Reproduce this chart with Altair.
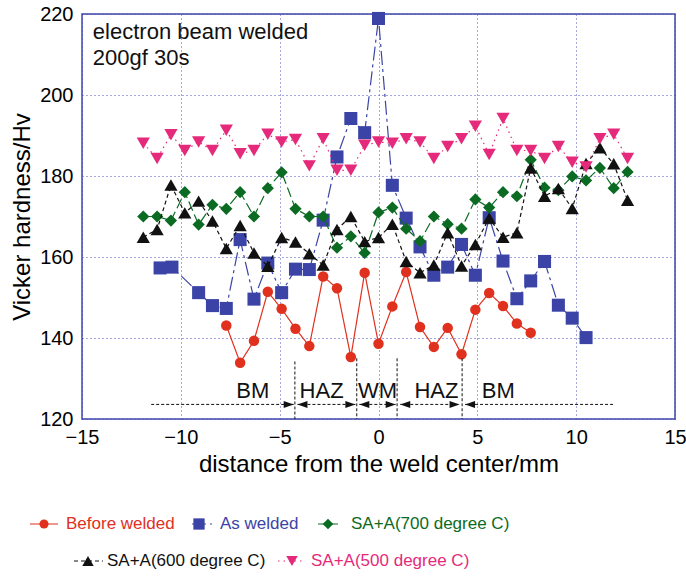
import altair as alt
import pandas as pd

# ---------------- data ----------------
x_before = [-7.7, -7.0, -6.3, -5.6, -4.9, -4.2, -3.5, -2.8, -2.1, -1.4, -0.7, 0.0,
            0.7, 1.4, 2.1, 2.8, 3.5, 4.2, 4.9, 5.6, 6.3, 7.0, 7.7]
y_before = [143.1, 133.9, 139.3, 151.4, 147.2, 142.3, 138.0, 155.2, 152.3, 135.3, 156.1, 138.6,
            147.8, 156.3, 142.7, 137.8, 142.5, 136.0, 147.0, 151.1, 147.9, 143.6, 141.3]

x_as = [-11.05, -10.45, -9.1, -8.4, -7.7, -7.0, -6.3, -5.6, -4.9, -4.2, -3.5, -2.8, -2.1, -1.4, -0.7, 0.0,
        0.7, 1.4, 2.1, 2.8, 3.5, 4.2, 4.9, 5.6, 6.3, 7.0, 7.7, 8.4, 9.1, 9.8, 10.5]
y_as = [157.3, 157.5, 151.2, 148.0, 147.3, 164.3, 149.6, 158.5, 151.2, 157.0, 156.9, 169.1, 184.7, 194.2, 190.7, 218.9,
        177.7, 169.6, 162.5, 155.5, 157.5, 163.1, 155.5, 169.7, 159.0, 149.7, 154.1, 158.9, 148.1, 144.9, 140.1]

x_full = [-11.9, -11.2, -10.5, -9.8, -9.1, -8.4, -7.7, -7.0, -6.3, -5.6, -4.9, -4.2, -3.5, -2.8, -2.1, -1.4, -0.7, 0.0,
          0.7, 1.4, 2.1, 2.8, 3.5, 4.2, 4.9, 5.6, 6.3, 7.0, 7.7, 8.4, 9.1, 9.8, 10.5, 11.2, 11.9, 12.6]
y_700 = [170.0, 170.0, 169.0, 176.0, 168.0, 172.9, 171.9, 176.0, 170.0, 177.0, 180.9, 171.9, 170.0, 170.0, 162.3, 165.1, 161.0, 171.0,
         172.2, 167.0, 163.9, 170.0, 168.1, 167.0, 174.2, 172.2, 176.0, 175.0, 184.0, 177.1, 176.5, 179.9, 178.9, 182.0, 177.0, 181.0]
y_600 = [164.9, 166.8, 177.8, 170.9, 173.8, 168.9, 162.1, 167.8, 161.0, 157.7, 164.8, 163.7, 160.8, 158.0, 166.8, 170.0, 163.8, 164.8,
         168.1, 158.9, 156.1, 158.0, 166.0, 157.8, 163.1, 169.6, 164.9, 166.0, 182.0, 175.0, 176.9, 172.0, 183.1, 187.0, 183.0, 174.0]
y_500 = [188.1, 184.3, 190.2, 186.3, 188.4, 186.3, 191.3, 185.5, 186.3, 190.3, 188.4, 189.0, 182.5, 189.2, 181.4, 181.4, 187.6, 188.4,
         188.1, 189.2, 188.4, 184.3, 187.3, 189.2, 192.3, 185.3, 194.2, 186.3, 186.3, 184.3, 187.3, 183.4, 182.2, 189.2, 190.3, 184.3]

series_names = ["Before welded", "As welded", "SA+A(700 degree C)", "SA+A(600 degree C)", "SA+A(500 degree C)"]

# annotations
note_lines = ["electron beam welded", "200gf 30s"]
note_x = [-14.45, -14.45]
note_y = [215.5, 209.1]

region_labels = ["BM", "HAZ", "WM", "HAZ", "BM"]
region_x = [-6.36, -2.88, -0.05, 2.93, 6.06]
region_y = [126.8, 126.8, 126.8, 126.8, 126.8]

arrow_x1 = [-11.5, -4.1, -0.97, 1.1, 4.38]
arrow_x2 = [-4.29, -1.17, 0.87, 4.1, 11.97]
arrow_y = 123.6
head_x = [-4.29, -4.1, -1.17, -0.97, 0.87, 1.1, 4.1, 4.38]
head_dir = ["r", "l", "r", "l", "r", "l", "r", "l"]

vline_x = [-4.23, -1.1, 0.94, 4.23]
vline_top = [134.2, 135.0, 135.0, 135.0]

# ---------------- styles ----------------
colors = ["#e0301e", "#3b44a6", "#0b6b22", "#111111", "#e52a7b"]
shapes = ["circle", "square", "diamond", "triangle-up", "triangle-down"]
sizes = [110, 170, 150, 175, 175]
dashes = [[1, 0], [14, 4, 3, 4], [10, 4], [4, 3], [1.5, 4]]
FONT = "Liberation Sans"
FRAME = "#3d47a8"

xs = [x_before, x_as, x_full, x_full, x_full]
ys = [y_before, y_as, y_700, y_600, y_500]

xscale = alt.Scale(domain=[-15, 15], nice=False, zero=False)
yscale = alt.Scale(domain=[120, 220], nice=False, zero=False)

xaxis = alt.Axis(values=[-15, -10, -5, 0, 5, 10, 15], title="distance from the weld center/mm",
                 grid=True, gridColor="#4a4ac0", gridDash=[1, 3], gridWidth=1,
                 domain=False, ticks=False, labelFontSize=20, labelFont=FONT, labelColor="black",
                 labelFlush=False, labelPadding=8, titleFontSize=24, titleFont=FONT,
                 titleFontWeight="normal", titleColor="black", titlePadding=5)
yaxis = alt.Axis(values=[120, 140, 160, 180, 200, 220], title="Vicker hardness/Hv",
                 grid=True, gridColor="#4a4ac0", gridDash=[1, 3], gridWidth=1,
                 domain=False, ticks=False, labelFontSize=20, labelFont=FONT, labelColor="black",
                 labelFlush=False, labelPadding=9, titleFontSize=24, titleFont=FONT,
                 titleFontWeight="normal", titleColor="black", titlePadding=5)


def X(field):
    return alt.X(field, scale=xscale, axis=xaxis)


def Y(field):
    return alt.Y(field, scale=yscale, axis=yaxis)


layers = []
for i, name in enumerate(series_names):
    df = pd.DataFrame({"x": xs[i], "y": ys[i], "series": name})
    layers.append(alt.Chart(df).mark_line(color=colors[i], strokeWidth=1.2,
                                          strokeDash=dashes[i]).encode(x=X("x:Q"), y=Y("y:Q")))
    layers.append(alt.Chart(df).mark_point(shape=shapes[i], filled=True, color=colors[i],
                                           opacity=1, size=sizes[i]).encode(x=X("x:Q"), y=Y("y:Q")))

# annotation text
notes_df = pd.DataFrame({"t": note_lines, "x": note_x, "y": note_y})
layers.append(alt.Chart(notes_df).mark_text(align="left", baseline="middle", fontSize=22,
                                            font=FONT, color="#111").encode(
    x=X("x:Q"), y=Y("y:Q"), text="t:N"))

reg_df = pd.DataFrame({"t": region_labels, "x": region_x, "y": region_y})
layers.append(alt.Chart(reg_df).mark_text(align="center", baseline="middle", fontSize=22,
                                          font=FONT, color="#111").encode(
    x=X("x:Q"), y=Y("y:Q"), text="t:N"))

arr_df = pd.DataFrame({"x1": arrow_x1, "x2": arrow_x2, "y": [arrow_y] * len(arrow_x1)})
layers.append(alt.Chart(arr_df).mark_rule(color="#111", strokeWidth=1, strokeDash=[3, 2]).encode(
    x=X("x1:Q"), x2="x2:Q", y=Y("y:Q")))

vl_df = pd.DataFrame({"x": vline_x, "top": vline_top, "bot": [120] * len(vline_x)})
layers.append(alt.Chart(vl_df).mark_rule(color="#111", strokeWidth=1, strokeDash=[3, 2]).encode(
    x=X("x:Q"), y=Y("top:Q"), y2="bot:Q"))

head_df = pd.DataFrame({"x": head_x, "dir": head_dir, "y": [arrow_y] * len(head_x)})
layers.append(alt.Chart(head_df).mark_point(filled=True, color="#111", opacity=1, size=100).encode(
    x=X("x:Q"), y=Y("y:Q"),
    shape=alt.Shape("dir:N", scale=alt.Scale(domain=["r", "l"],
                                             range=["M0,0L-2,-0.7L-2,0.7Z", "M0,0L2,-0.7L2,0.7Z"]),
                    legend=None)))

# ---------------- custom legend (layout in pixels, relative to plot origin) ----------------
leg_line = [(-52, -24), (110, 130), (236, 256), (-8, 21), (196, 223)]
leg_mark = [-38, 117, 246, 6, 210]
leg_text = [-16, 138, 269, 25, 229]
leg_y = [510, 510, 510, 547, 547]

for i, name in enumerate(series_names):
    one = pd.DataFrame({"label": [name]})
    layers.append(alt.Chart(one).mark_rule(color=colors[i], strokeWidth=1.2, strokeDash=dashes[i]).encode(
        x=alt.value(leg_line[i][0]), x2=alt.value(leg_line[i][1]), y=alt.value(leg_y[i])))
    layers.append(alt.Chart(one).mark_point(shape=shapes[i], filled=True, color=colors[i], opacity=1,
                                            size=sizes[i] * 0.75).encode(
        x=alt.value(leg_mark[i]), y=alt.value(leg_y[i])))
    layers.append(alt.Chart(one).mark_text(align="left", baseline="middle", fontSize=17, font=FONT,
                                           color=colors[i]).encode(
        x=alt.value(leg_text[i]), y=alt.value(leg_y[i]), text="label:N"))

chart = alt.layer(*layers).properties(
    width=593, height=405,
    autosize=alt.AutoSizeParams(type="none"),
    padding={"left": 82, "top": 14, "right": 11, "bottom": 158},
    background="white",
).configure_view(stroke=FRAME, strokeWidth=1.5)

chart.save("out.html", embed_options={"renderer": "svg", "actions": False})
